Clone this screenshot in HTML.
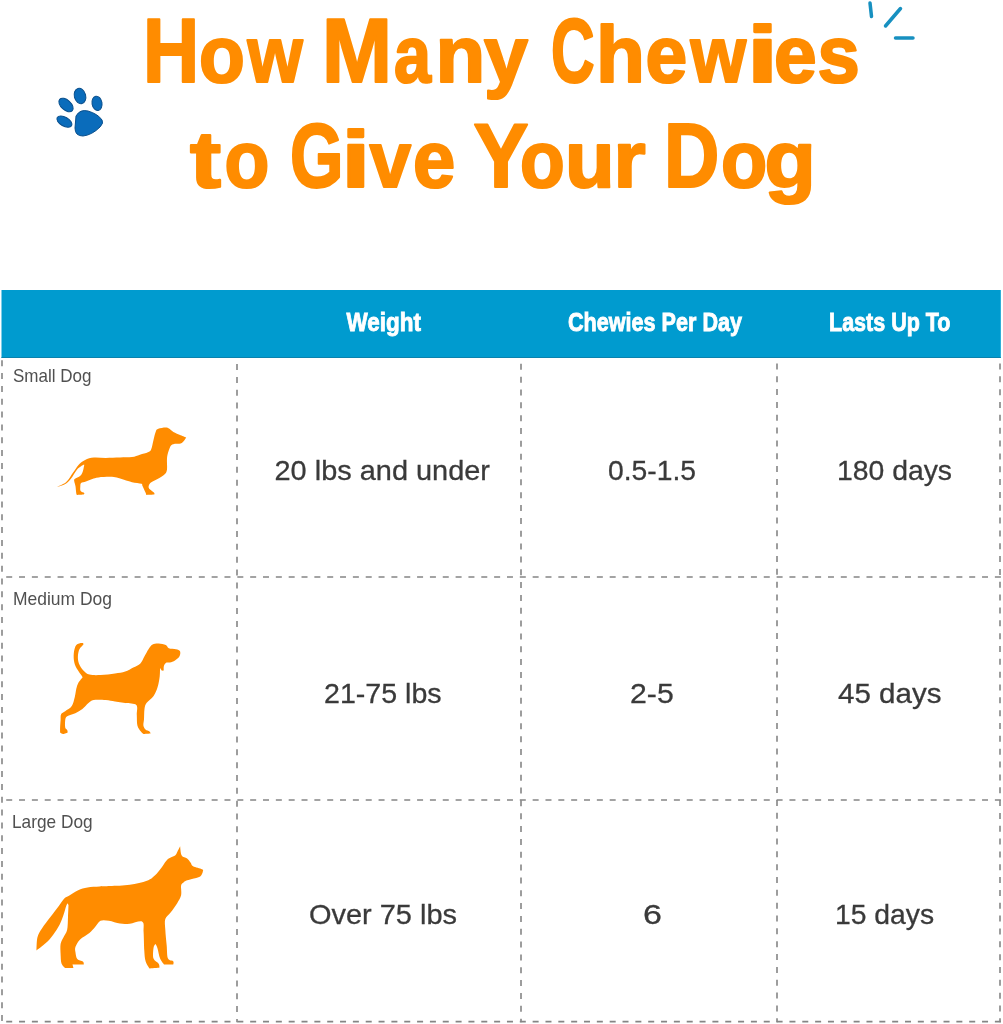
<!DOCTYPE html>
<html><head><meta charset="utf-8">
<style>
html,body{margin:0;padding:0;background:#fff;width:1003px;height:1024px;overflow:hidden}
svg{display:block;will-change:transform}
text{font-family:"Liberation Sans",sans-serif}
</style></head>
<body>
<svg width="1003" height="1024" viewBox="0 0 1003 1024">
<rect x="0" y="0" width="1003" height="1024" fill="#fff"/>
<!-- title -->
<g fill="#ff8c00" stroke="#ff8c00" stroke-width="2.2" stroke-linejoin="round" font-weight="bold" font-size="80">
<text x="143.0" y="81.8" font-size="90" textLength="56.2" lengthAdjust="spacingAndGlyphs">H</text>
<text x="199.0" y="81.8" textLength="45.8" lengthAdjust="spacingAndGlyphs">o</text>
<text x="247.5" y="81.8" textLength="55.2" lengthAdjust="spacingAndGlyphs">w</text>
<text x="322.0" y="81.8" font-size="90" textLength="70.0" lengthAdjust="spacingAndGlyphs">M</text>
<text x="394.0" y="81.8" textLength="37.0" lengthAdjust="spacingAndGlyphs">a</text>
<text x="435.5" y="81.8" textLength="49.8" lengthAdjust="spacingAndGlyphs">n</text>
<text x="484.0" y="81.8" textLength="44.0" lengthAdjust="spacingAndGlyphs">y</text>
<text x="551.0" y="81.8" font-size="90" textLength="43.6" lengthAdjust="spacingAndGlyphs">C</text>
<text x="596.0" y="81.8" textLength="48.9" lengthAdjust="spacingAndGlyphs">h</text>
<text x="645.5" y="81.8" textLength="41.7" lengthAdjust="spacingAndGlyphs">e</text>
<text x="690.5" y="81.8" textLength="55.6" lengthAdjust="spacingAndGlyphs">w</text>
<text x="747.0" y="81.8" textLength="31.1" lengthAdjust="spacingAndGlyphs">i</text>
<text x="774.0" y="81.8" textLength="42.7" lengthAdjust="spacingAndGlyphs">e</text>
<text x="817.5" y="81.8" textLength="42.3" lengthAdjust="spacingAndGlyphs">s</text>
<text x="190.0" y="187.2" textLength="31.0" lengthAdjust="spacingAndGlyphs">t</text>
<text x="224.5" y="187.2" textLength="44.8" lengthAdjust="spacingAndGlyphs">o</text>
<text x="290.0" y="187.2" font-size="90" textLength="53.5" lengthAdjust="spacingAndGlyphs">G</text>
<text x="341.5" y="187.2" textLength="28.7" lengthAdjust="spacingAndGlyphs">i</text>
<text x="369.5" y="187.2" textLength="41.6" lengthAdjust="spacingAndGlyphs">v</text>
<text x="413.0" y="187.2" textLength="42.3" lengthAdjust="spacingAndGlyphs">e</text>
<text x="473.5" y="187.2" font-size="90" textLength="55.0" lengthAdjust="spacingAndGlyphs">Y</text>
<text x="520.0" y="187.2" textLength="44.7" lengthAdjust="spacingAndGlyphs">o</text>
<text x="565.0" y="187.2" textLength="49.6" lengthAdjust="spacingAndGlyphs">u</text>
<text x="613.5" y="187.2" textLength="32.1" lengthAdjust="spacingAndGlyphs">r</text>
<text x="664.0" y="187.2" font-size="90" textLength="55.3" lengthAdjust="spacingAndGlyphs">D</text>
<text x="721.0" y="187.2" textLength="46.2" lengthAdjust="spacingAndGlyphs">o</text>
<text x="764.5" y="187.2" textLength="51.3" lengthAdjust="spacingAndGlyphs">g</text>
</g>
<!-- sparkles -->
<g stroke="#1790c0" stroke-width="3.5" stroke-linecap="round" fill="none">
<line x1="870" y1="3" x2="871.5" y2="16.5"/>
<line x1="900.5" y1="8.5" x2="885.5" y2="26"/>
<line x1="895.5" y1="38" x2="913" y2="38"/>
</g>
<!-- grid -->
<g stroke="#858585" stroke-width="1.6" fill="none">
<g stroke-dasharray="6 6.84">
<line x1="2" y1="360.2" x2="2" y2="1022.3"/>
<line x1="237" y1="364.1" x2="237" y2="1022.3"/>
<line x1="521" y1="363.8" x2="521" y2="1022.3"/>
<line x1="777" y1="363.4" x2="777" y2="1022.3"/>
<line x1="1000" y1="363.5" x2="1000" y2="1022.3"/>
<line x1="6.2" y1="577" x2="1001" y2="577"/>
<line x1="6.2" y1="800" x2="1001" y2="800"/>
<line x1="6.2" y1="1021.6" x2="1001" y2="1021.6"/>
</g>
</g>
<!-- header -->
<rect x="1.5" y="290" width="999.3" height="68" fill="#009bcf"/>
<rect x="1.5" y="357" width="999.3" height="1" fill="#0a82ad"/>
<g fill="#fff" stroke="#fff" stroke-width="0.9" font-weight="bold" font-size="26.5">
<text x="346.5" y="330.5" textLength="74.5" lengthAdjust="spacingAndGlyphs">Weight</text>
<text x="568.0" y="330.5" textLength="174.0" lengthAdjust="spacingAndGlyphs">Chewies Per Day</text>
<text x="829.0" y="331" textLength="121.5" lengthAdjust="spacingAndGlyphs">Lasts Up To</text>
</g>
<!-- labels -->
<g fill="#505050" font-size="19">
<text x="13.0" y="381.5" textLength="78.5" lengthAdjust="spacingAndGlyphs">Small Dog</text>
<text x="13.0" y="605" textLength="99.0" lengthAdjust="spacingAndGlyphs">Medium Dog</text>
<text x="12.0" y="828" textLength="80.6" lengthAdjust="spacingAndGlyphs">Large Dog</text>
</g>
<!-- values -->
<g fill="#3a3a3a" stroke="#3a3a3a" stroke-width="0.3" font-size="28.5">
<text x="274.5" y="479.5" textLength="215.5" lengthAdjust="spacingAndGlyphs">20 lbs and under</text>
<text x="608.0" y="479.5" textLength="88.0" lengthAdjust="spacingAndGlyphs">0.5-1.5</text>
<text x="837.0" y="479.5" textLength="115.0" lengthAdjust="spacingAndGlyphs">180 days</text>
<text x="324.0" y="702.5" textLength="117.6" lengthAdjust="spacingAndGlyphs">21-75 lbs</text>
<text x="630.0" y="702.5" textLength="43.7" lengthAdjust="spacingAndGlyphs">2-5</text>
<text x="838.0" y="702.5" textLength="103.5" lengthAdjust="spacingAndGlyphs">45 days</text>
<text x="309.0" y="924" textLength="148.0" lengthAdjust="spacingAndGlyphs">Over 75 lbs</text>
<text x="643.0" y="924" textLength="18.9" lengthAdjust="spacingAndGlyphs">6</text>
<text x="835.0" y="924" textLength="99.1" lengthAdjust="spacingAndGlyphs">15 days</text>
</g>
<!-- dogs -->
<g fill="#ff8c00">
<path d="M55.2,487.4 C55.2,487.4 63.0,484.7 66.0,482.2 C69.0,479.7 71.0,475.5 73.1,472.6 C75.2,469.7 76.7,466.8 78.7,464.7 C80.7,462.6 82.6,461.1 85.1,459.9 C87.6,458.7 90.5,457.8 93.9,457.5 C97.4,457.2 101.5,457.9 105.8,457.9 C110.1,457.9 115.6,457.6 120.0,457.5 C124.4,457.4 128.7,457.6 132.0,457.1 C135.3,456.6 137.2,455.5 139.9,454.7 C142.6,453.9 146.0,453.2 147.9,452.3 C149.8,451.4 150.2,451.6 151.1,449.5 C152.0,447.4 152.7,442.9 153.5,439.9 C154.3,436.8 155.1,433.0 155.9,431.2 C156.7,429.4 156.7,429.4 158.3,428.8 C159.9,428.2 163.7,427.6 165.5,427.6 C167.3,427.6 168.1,428.1 169.4,428.8 C170.7,429.5 171.5,430.9 173.4,432.0 C175.3,433.1 178.5,434.3 180.6,435.2 C182.7,436.1 186.2,437.5 186.2,437.5 C186.2,437.5 185.5,438.9 184.6,439.9 C183.7,440.9 182.3,442.8 180.6,443.5 C178.9,444.2 175.8,443.6 174.2,443.9 C172.6,444.2 171.9,444.3 171.0,445.5 C170.1,446.7 169.3,449.0 168.6,451.1 C167.9,453.2 167.3,455.2 167.0,458.3 C166.7,461.4 167.4,466.8 167.0,469.4 C166.6,472.0 166.3,472.6 164.7,474.2 C163.1,475.8 159.9,477.5 157.5,479.0 C155.1,480.5 151.8,481.5 150.3,483.0 C148.8,484.5 148.4,486.5 148.7,487.8 C149.0,489.1 151.0,490.1 151.9,491.0 C152.8,491.9 153.9,492.4 154.3,493.0 C154.7,493.6 154.3,494.6 154.3,494.6 C154.3,494.6 146.3,495.0 146.3,495.0 C146.3,495.0 146.2,494.2 145.5,492.6 C144.8,491.0 143.0,486.9 142.3,485.4 C141.6,483.9 143.2,484.3 141.5,483.8 C139.8,483.3 134.9,482.9 132.0,482.2 C129.1,481.5 127.0,480.7 124.0,479.8 C121.0,478.9 118.0,477.4 113.8,477.0 C109.6,476.6 102.2,477.1 98.6,477.4 C95.0,477.7 94.4,478.3 92.3,479.0 C90.2,479.7 87.8,480.7 85.9,481.4 C84.0,482.1 82.0,482.1 81.1,483.0 C80.2,483.9 80.4,485.7 80.3,487.0 C80.2,488.3 80.0,490.0 80.7,491.0 C81.4,492.0 83.8,492.4 84.3,493.0 C84.8,493.6 83.5,494.6 83.5,494.6 C83.5,494.6 77.1,495.0 77.1,495.0 C77.1,495.0 76.6,494.9 76.3,493.4 C76.0,491.9 75.8,488.2 75.5,486.2 C75.2,484.2 74.4,482.6 74.3,481.4 C74.2,480.2 73.7,479.9 74.7,479.0 C75.7,478.1 79.0,477.0 80.3,475.8 C81.6,474.6 82.0,473.7 82.7,471.8 C83.4,469.9 84.3,464.7 84.3,464.7 C84.3,464.7 83.5,464.7 83.5,464.7 C83.5,464.7 79.2,467.0 77.1,469.4 C75.0,471.8 72.8,476.5 70.7,479.0 C68.6,481.5 67.0,483.2 64.4,484.6 C61.8,486.0 55.2,487.4 55.2,487.4Z"/>
<path d="M81.9,643.1 C83.1,643.0 83.8,643.6 83.4,644.6 C83.0,645.6 80.3,647.2 79.4,649.2 C78.5,651.2 78.0,653.9 77.9,656.3 C77.8,658.7 78.0,661.0 78.9,663.4 C79.8,665.8 81.6,668.6 83.4,670.5 C85.2,672.4 86.6,673.8 89.5,674.6 C92.4,675.4 96.5,675.3 100.7,675.1 C105.0,674.9 110.9,674.2 115.0,673.6 C119.1,673.0 122.2,672.6 125.2,671.6 C128.2,670.6 130.8,668.9 133.3,667.5 C135.8,666.1 138.5,665.3 140.4,663.4 C142.3,661.5 143.2,658.7 144.5,656.3 C145.8,653.9 147.2,651.2 148.5,649.2 C149.8,647.2 150.9,645.5 152.6,644.6 C154.3,643.7 156.5,643.5 158.7,643.6 C160.9,643.7 164.1,644.3 165.8,645.1 C167.5,645.9 167.1,647.5 168.8,648.2 C170.5,648.9 174.1,648.7 176.0,649.2 C177.9,649.7 179.4,650.0 180.0,651.2 C180.6,652.4 180.3,654.8 179.5,656.3 C178.7,657.8 176.6,659.4 175.0,660.4 C173.4,661.4 171.4,662.0 169.9,662.4 C168.4,662.8 166.8,662.2 165.8,662.9 C164.8,663.6 164.1,665.2 163.8,666.5 C163.5,667.8 163.8,670.5 163.8,670.5 C163.8,670.5 162.3,670.8 161.7,670.5 C161.1,670.2 160.5,667.5 160.2,668.5 C159.9,669.5 160.1,673.6 159.7,676.6 C159.3,679.6 158.7,683.6 157.7,686.8 C156.7,690.0 155.5,693.3 153.6,696.0 C151.7,698.7 148.0,700.9 146.5,703.1 C145.0,705.3 144.9,706.4 144.5,709.1 C144.1,711.8 144.2,716.6 144.0,719.3 C143.8,722.0 143.2,723.7 143.4,725.4 C143.7,727.1 144.5,728.5 145.5,729.5 C146.5,730.5 148.7,730.8 149.5,731.5 C150.3,732.2 150.6,733.5 150.6,733.5 C150.6,733.5 143.4,734.0 143.4,734.0 C143.4,734.0 141.9,732.9 140.9,731.5 C139.9,730.1 138.1,728.1 137.4,725.4 C136.7,722.7 137.0,718.6 136.8,715.2 C136.6,711.8 138.2,707.1 136.3,705.1 C134.4,703.1 128.8,703.7 125.2,703.1 C121.7,702.5 118.2,702.0 115.0,701.5 C111.8,701.0 109.4,700.2 105.8,700.0 C102.2,699.8 96.5,699.5 93.6,700.0 C90.7,700.5 90.4,701.6 88.5,703.1 C86.6,704.6 84.6,707.4 82.4,709.1 C80.2,710.8 77.8,712.0 75.3,713.2 C72.8,714.4 68.9,715.1 67.2,716.3 C65.5,717.5 65.5,718.4 65.2,720.3 C64.9,722.1 64.9,725.8 65.2,727.4 C65.5,729.0 66.8,729.1 67.2,730.0 C67.6,730.9 67.7,732.5 67.7,732.5 C67.7,732.5 64.4,734.0 63.1,734.0 C61.8,734.0 60.1,732.5 60.1,732.5 C60.1,732.5 60.0,729.4 60.1,727.4 C60.2,725.4 60.4,722.5 60.6,720.3 C60.8,718.1 60.3,715.7 61.1,714.2 C61.9,712.7 63.4,712.6 65.2,711.2 C67.0,709.9 70.2,708.5 71.8,706.1 C73.4,703.7 74.0,699.9 74.8,697.0 C75.5,694.1 75.7,691.2 76.3,688.8 C76.9,686.4 77.4,684.6 78.4,682.7 C79.4,680.9 82.4,677.7 82.4,677.7 C82.4,677.7 82.7,677.5 81.9,676.1 C81.1,674.7 78.7,671.8 77.4,669.5 C76.1,667.2 74.9,665.1 74.3,662.4 C73.7,659.7 73.5,656.2 73.8,653.3 C74.1,650.4 74.9,646.8 76.3,645.1 C77.7,643.4 80.7,643.2 81.9,643.1Z"/>
<path d="M36.5,950.5 C36.5,950.5 36.5,941.2 37.4,937.5 C38.3,933.8 39.9,931.6 42.1,928.2 C44.3,924.8 47.6,920.8 50.4,917.1 C53.2,913.4 56.5,909.1 58.8,906.0 C61.1,902.9 62.6,900.3 64.3,898.6 C66.0,896.9 66.7,897.2 69.0,895.8 C71.3,894.4 75.1,891.6 78.2,890.2 C81.3,888.8 83.9,888.0 87.5,887.4 C91.1,886.8 95.8,886.7 99.6,886.5 C103.3,886.3 105.0,886.4 110.0,886.1 C115.0,885.8 123.7,885.7 129.8,884.8 C136.0,883.9 142.7,882.3 146.9,880.8 C151.1,879.3 152.3,877.9 154.8,875.6 C157.3,873.3 159.8,869.6 162.0,866.9 C164.2,864.1 165.7,861.0 167.9,859.1 C170.1,857.2 173.5,856.8 175.1,855.5 C176.7,854.2 176.7,853.0 177.5,851.5 C178.3,850.0 180.2,846.3 180.2,846.3 C180.2,846.3 180.5,853.5 181.7,855.5 C182.8,857.5 185.6,857.3 187.1,858.5 C188.6,859.7 189.7,861.4 190.7,862.7 C191.7,864.0 191.2,865.2 193.1,866.3 C195.0,867.4 200.4,868.5 202.0,869.3 C203.6,870.1 203.2,870.1 202.9,871.3 C202.6,872.5 202.0,875.2 200.2,876.5 C198.4,877.8 194.3,878.2 191.9,878.9 C189.5,879.6 187.3,880.1 185.9,880.7 C184.5,881.3 184.3,881.7 183.5,882.5 C182.7,883.3 181.5,883.4 181.1,885.5 C180.7,887.6 181.8,892.3 181.1,895.3 C180.4,898.2 178.9,900.3 177.2,903.2 C175.4,906.1 172.6,909.9 170.6,912.5 C168.6,915.1 166.2,916.1 165.3,919.0 C164.4,921.9 165.1,925.2 165.3,929.6 C165.5,934.0 166.2,940.6 166.7,945.4 C167.1,950.2 166.9,956.0 168.0,958.6 C169.1,961.2 172.3,960.2 173.2,961.2 C174.1,962.2 173.2,964.5 173.2,964.5 C173.2,964.5 164.0,964.5 164.0,964.5 C164.0,964.5 161.2,961.4 160.1,958.6 C159.0,955.9 158.2,950.4 157.4,948.0 C156.6,945.6 155.5,944.1 155.5,944.1 C155.5,944.1 153.8,945.6 153.5,948.0 C153.2,950.4 152.6,956.0 153.5,958.6 C154.4,961.2 157.7,962.3 158.7,963.8 C159.7,965.3 159.4,967.8 159.4,967.8 C159.4,967.8 149.5,968.5 149.5,968.5 C149.5,968.5 146.5,964.2 145.6,961.2 C144.7,958.2 144.6,955.5 144.3,950.7 C144.0,945.9 143.9,937.0 143.6,932.2 C143.3,927.4 144.6,923.1 142.3,921.7 C140.0,920.3 133.5,923.4 129.8,923.7 C126.1,924.0 123.5,924.1 120.0,923.6 C116.5,923.1 112.2,921.3 108.9,920.8 C105.7,920.3 102.8,919.7 100.5,920.8 C98.2,921.9 96.8,925.3 94.9,927.3 C93.1,929.3 91.9,930.9 89.4,932.9 C86.9,934.9 82.4,937.1 80.1,939.4 C77.8,941.7 76.3,944.6 75.5,946.8 C74.7,949.0 75.2,950.4 75.5,952.4 C75.8,954.4 76.1,957.4 77.3,958.9 C78.5,960.4 81.8,960.7 82.9,961.6 C84.0,962.5 83.8,964.4 83.8,964.4 C83.8,964.4 76.3,964.4 74.5,964.4 C72.7,964.4 72.9,963.8 72.7,964.4 C72.5,965.0 73.6,968.1 73.6,968.1 C73.6,968.1 65.3,968.1 65.3,968.1 C65.3,968.1 62.3,965.8 61.5,963.5 C60.7,961.2 60.8,957.5 60.6,954.2 C60.5,951.0 60.1,946.8 60.6,944.0 C61.1,941.2 62.3,939.8 63.4,937.5 C64.5,935.2 66.3,933.5 67.1,930.1 C67.9,926.7 67.8,921.3 68.0,917.1 C68.2,912.9 68.5,905.0 68.5,905.0 C68.5,905.0 67.6,903.2 67.6,903.2 C67.6,903.2 66.9,904.0 66.2,906.0 C65.5,908.0 64.5,912.2 63.4,915.3 C62.3,918.4 61.4,921.3 59.7,924.5 C58.0,927.7 55.5,931.6 53.2,934.7 C50.9,937.8 48.6,940.5 45.8,943.1 C43.0,945.7 36.5,950.5 36.5,950.5Z"/>
</g>
<!-- paw -->
<g fill="#0a6cbb" stroke="#0a4f8c" stroke-width="1">
<ellipse cx="80" cy="96" rx="5.7" ry="7.8" transform="rotate(-15 80 96)"/>
<ellipse cx="66" cy="105" rx="8.5" ry="5" transform="rotate(42 66 105)"/>
<ellipse cx="97" cy="103.3" rx="5" ry="7.2" transform="rotate(-10 97 103.3)"/>
<ellipse cx="64.4" cy="121.6" rx="8.3" ry="4.5" transform="rotate(30 64.4 121.6)"/>
<path d="M76 116 Q80 109 88 111 Q98 114 102 120 Q104 123 100 127 Q92 135 83 136 Q75 136 75 128 Z"/>
</g>
</svg>
</body></html>
